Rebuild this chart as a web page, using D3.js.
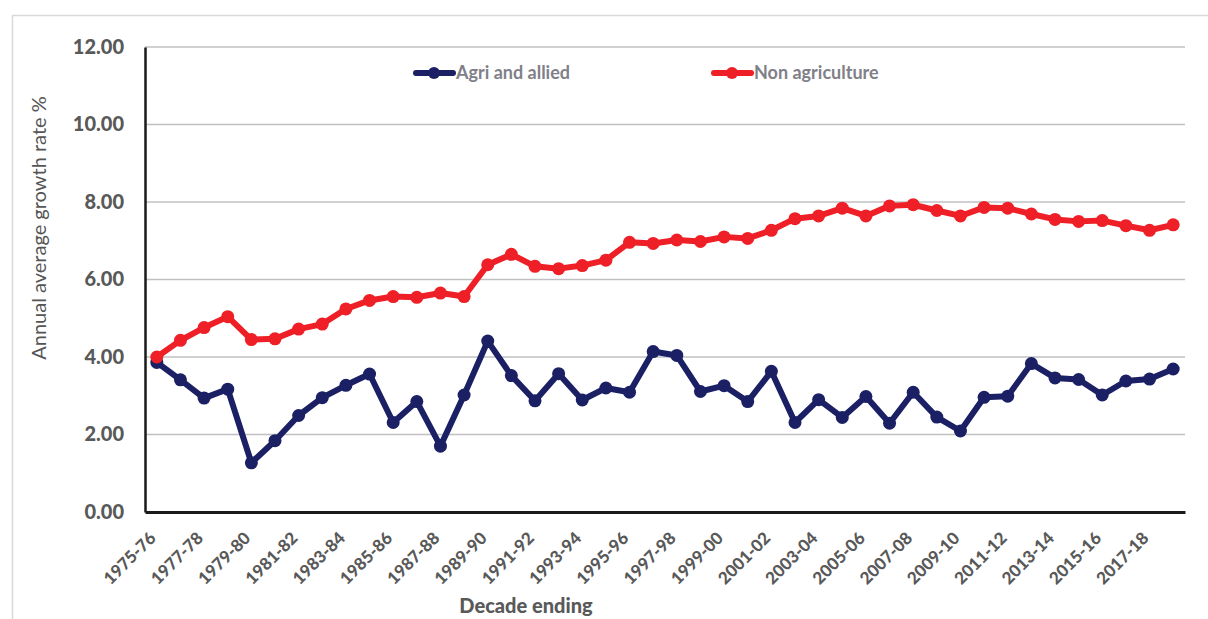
<!DOCTYPE html>
<html>
<head>
<meta charset="utf-8">
<script src="https://cdn.jsdelivr.net/npm/d3@7/dist/d3.min.js"></script>
<style>
  body { margin: 0; background: #fff; }
  svg { display: block; }
</style>
</head>
<body>
<svg id="chart" width="1208" height="619"></svg>
<script>
const categories = ["1975-76","1976-77","1977-78","1978-79","1979-80","1980-81","1981-82","1982-83","1983-84","1984-85",
  "1985-86","1986-87","1987-88","1988-89","1989-90","1990-91","1991-92","1992-93","1993-94","1994-95",
  "1995-96","1996-97","1997-98","1998-99","1999-00","2000-01","2001-02","2002-03","2003-04","2004-05",
  "2005-06","2006-07","2007-08","2008-09","2009-10","2010-11","2011-12","2012-13","2013-14","2014-15",
  "2015-16","2016-17","2017-18","2018-19"];
const agriValues = [3.86,3.41,2.94,3.17,1.27,1.84,2.49,2.95,3.27,3.56,
  2.31,2.85,1.70,3.02,4.41,3.52,2.87,3.57,2.89,3.20,
  3.09,4.14,4.04,3.11,3.26,2.85,3.63,2.31,2.90,2.44,
  2.98,2.29,3.09,2.45,2.09,2.96,2.99,3.83,3.46,3.42,
  3.02,3.38,3.43,3.69];
const nonAgriValues = [4.00,4.43,4.76,5.04,4.45,4.47,4.72,4.85,5.24,5.46,
  5.56,5.54,5.65,5.56,6.38,6.65,6.34,6.28,6.36,6.50,
  6.96,6.93,7.02,6.98,7.10,7.06,7.27,7.57,7.64,7.84,
  7.64,7.90,7.93,7.78,7.64,7.86,7.84,7.69,7.55,7.50,
  7.52,7.39,7.27,7.41];
const yTicks = [0,2,4,6,8,10,12];
const seriesNames = ["Agri and allied","Non agriculture"];
const seriesColors = ["#1b2064","#ee1f26"];

const svg = d3.select("#chart");
const W = 1208, H = 619;
const pLeft = 145, pRight = 1185, pTop = 47, pBottom = 512;
const FONT = "Lato, 'Open Sans', sans-serif";

// outer chart border
svg.append("rect").attr("x",12.5).attr("y",15.5).attr("width",W+20).attr("height",H+20)
  .attr("fill","none").attr("stroke","#d9d9d9").attr("stroke-width",1.5);

const x = d3.scaleBand().domain(categories).range([pLeft,pRight]);
const y = d3.scaleLinear().domain([0,12]).range([pBottom,pTop]);
const cx = c => x(c) + x.bandwidth()/2;

// gridlines
svg.append("g").selectAll("line").data(yTicks.filter(t=>t>0)).join("line")
  .attr("x1",pLeft).attr("x2",pRight).attr("y1",d=>y(d)).attr("y2",d=>y(d))
  .attr("stroke","#c0c0c4").attr("stroke-width",1.5);

// y axis
const yAxis = svg.append("g").attr("transform",`translate(${pLeft},0)`)
  .call(d3.axisLeft(y).tickValues(yTicks).tickFormat(d3.format(".2f")).tickSize(0).tickPadding(21));
yAxis.select(".domain").attr("stroke","#1a1a1a").attr("stroke-width",2.5);
yAxis.selectAll("text").attr("font-family",FONT).attr("font-weight","900")
  .attr("font-size","20px").attr("fill","#595959");

// x axis
const xAxis = svg.append("g").attr("transform",`translate(0,${pBottom})`)
  .call(d3.axisBottom(x).tickValues(categories.filter((c,i)=>i%2===0)).tickSize(0).tickPadding(0));
xAxis.select(".domain").attr("stroke","#1a1a1a").attr("stroke-width",3);
xAxis.selectAll("text")
  .attr("font-family",FONT).attr("font-weight","900")
  .attr("font-size","17px").attr("fill","#595959")
  .attr("text-anchor","end")
  .attr("dy","0.35em")
  .attr("transform","translate(-4,23) rotate(-45)");

// axis titles
svg.append("text").attr("transform","translate(46,228) rotate(-90)")
  .attr("text-anchor","middle").attr("font-family",FONT)
  .attr("font-size","20px").attr("fill","#555555").text("Annual average growth rate %");
svg.append("text").attr("x",526).attr("y",613)
  .attr("text-anchor","middle").attr("font-family",FONT).attr("font-weight","900")
  .attr("font-size","20px").attr("fill","#595959").text("Decade ending");

// lines
const allSeries = [agriValues, nonAgriValues];
const line = d3.line().x((d,i)=>cx(categories[i])).y(d=>y(d));
allSeries.forEach((vals,s)=>{
  const g = svg.append("g");
  g.append("path").datum(vals).attr("d",line).attr("fill","none")
    .attr("stroke",seriesColors[s]).attr("stroke-width",6).attr("stroke-linejoin","round");
  g.selectAll("circle").data(vals).join("circle")
    .attr("cx",(d,i)=>cx(categories[i])).attr("cy",d=>y(d)).attr("r",6.5)
    .attr("fill",seriesColors[s]);
});

// legend
const legendX = [413, 711];
seriesNames.forEach((n,s)=>{
  const g = svg.append("g").attr("transform",`translate(${legendX[s]},73)`);
  g.append("line").attr("x1",3).attr("x2",40).attr("y1",0).attr("y2",0)
    .attr("stroke",seriesColors[s]).attr("stroke-width",6).attr("stroke-linecap","round");
  g.append("circle").attr("cx",21).attr("cy",0).attr("r",6).attr("fill",seriesColors[s]);
  g.append("text").attr("x",43).attr("y",0).attr("dy","0.35em")
    .attr("font-family",FONT).attr("font-weight","bold")
    .attr("font-size","18px").attr("fill","#808088").text(n);
});
</script>
</body>
</html>
